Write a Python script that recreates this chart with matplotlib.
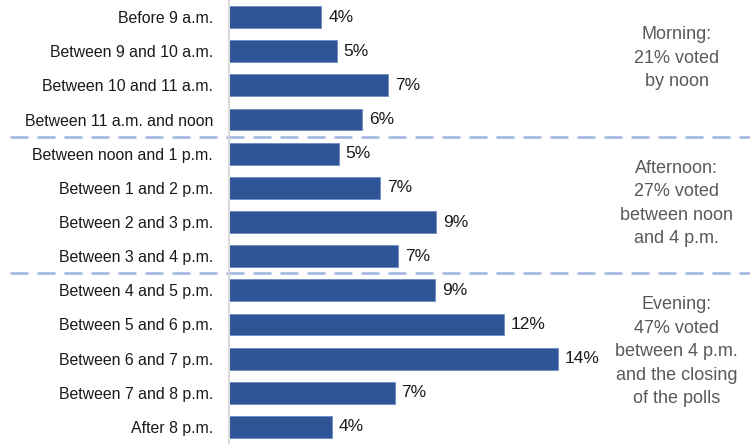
import matplotlib
matplotlib.use("Agg")
import matplotlib.pyplot as plt

categories = [
    "Before 9 a.m.", "Between 9 and 10 a.m.", "Between 10 and 11 a.m.",
    "Between 11 a.m. and noon", "Between noon and 1 p.m.", "Between 1 and 2 p.m.",
    "Between 2 and 3 p.m.", "Between 3 and 4 p.m.", "Between 4 and 5 p.m.",
    "Between 5 and 6 p.m.", "Between 6 and 7 p.m.", "Between 7 and 8 p.m.",
    "After 8 p.m.",
]
# unrounded shares, labels show the rounded figures
values = [3.98, 4.64, 6.84, 5.75, 4.73, 6.52, 8.94, 7.30, 8.89, 11.84, 14.18, 7.14, 4.43]
labels = ["4%", "5%", "7%", "6%", "5%", "7%", "9%", "7%", "9%", "12%", "14%", "7%", "4%"]
group_breaks = [3.5, 7.5]
group_notes = [
    "Morning:\n21% voted\nby noon",
    "Afternoon:\n27% voted\nbetween noon\nand 4 p.m.",
    "Evening:\n47% voted\nbetween 4 p.m.\nand the closing\nof the polls",
]
note_rows = [1.2, 5.46, 9.8]

plt.rcParams["font.family"] = ["Liberation Sans", "DejaVu Sans"]

fig = plt.figure(figsize=(7.5, 4.44), dpi=100)
ax = fig.add_axes([229 / 750, 0, 1 - 229 / 750, 1])

bar_color = "#2f5597"
ypos = list(range(len(categories)))
ax.barh(ypos, values, height=0.64, color=bar_color, edgecolor="#6f8cc4", linewidth=0.6)

for y, v, lab in zip(ypos, values, labels):
    ax.text(v + 0.3, y, lab, va="center", ha="left", fontsize=12.5, color="#1a1a1a")

ax.set_ylim(len(categories) - 0.5, -0.5)
ax.set_xlim(0, 22.46)

ax.set_yticks(ypos)
ax.set_yticklabels(categories, fontsize=11.4, color="#1a1a1a")
ax.tick_params(axis="y", length=0, pad=11.5)
ax.set_xticks([])

for side in ["top", "right", "bottom"]:
    ax.spines[side].set_visible(False)
ax.spines["left"].set_color("#d9d9d9")
ax.spines["left"].set_linewidth(1.5)

# dashed separators span almost the full figure width
for b in group_breaks:
    ax.plot([-9.45, 22.46], [b, b], color="#9db3e0", linewidth=1.8,
            linestyle=(0, (7.2, 3.6)), clip_on=False, zorder=0)

for note, r in zip(group_notes, note_rows):
    ax.text(19.3, r, note, ha="center", va="center", fontsize=13,
            color="#595959", linespacing=1.5)

fig.savefig("out.png", dpi=100)
